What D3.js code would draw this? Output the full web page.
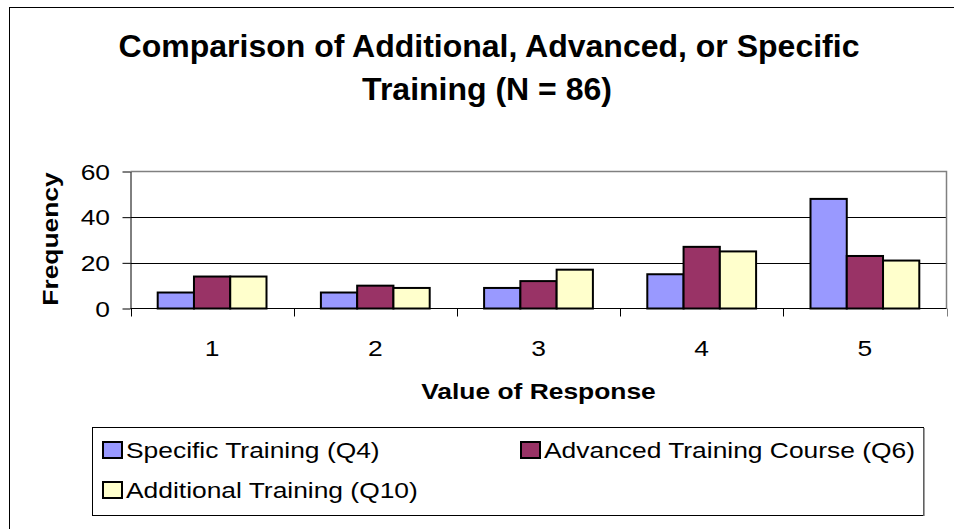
<!DOCTYPE html>
<html>
<head>
<meta charset="utf-8">
<script src="https://cdn.jsdelivr.net/npm/d3@7"></script>
<style>
  body { margin: 0; background: #fff; }
  text { font-family: Arial, "Liberation Sans", sans-serif; fill: #000; }
</style>
</head>
<body>
<div class="chart"></div>
<script>
// data
const categories = ["1", "2", "3", "4", "5"];
const seriesNames = ["Specific Training (Q4)", "Advanced Training Course (Q6)", "Additional Training (Q10)"];
const specific = [7, 7, 9, 15, 48];
const advanced = [14, 10, 12, 27, 23];
const additional = [14, 9, 17, 25, 21];
const yTicks = [0, 20, 40, 60];
const colors = ["#9999ff", "#993366", "#ffffcc"];

const seriesValues = [specific, advanced, additional];

const W = 954, H = 529;
const plot = { left: 130.5, right: 946.5, top: 171.5, bottom: 308.5 };
const stretch = 1.2; // the source's text is drawn wide

const svg = d3.select(".chart")
  .append("svg")
  .attr("width", W)
  .attr("height", H);

// text with horizontal stretch around its anchor
function label(g, x, y, str, opts = {}) {
  const rot = opts.rotate ? ` rotate(${opts.rotate})` : "";
  return g.append("text")
    .attr("transform", `translate(${x},${y})${rot} scale(${opts.sx || stretch},1)`)
    .attr("text-anchor", opts.anchor || "start")
    .attr("font-size", opts.size || 22)
    .attr("font-weight", opts.bold ? "bold" : null)
    .text(str);
}

// outer chart frame
svg.append("rect")
  .attr("x", 9.5).attr("y", 7.5)
  .attr("width", 960).attr("height", 540)
  .attr("fill", "#fff")
  .attr("stroke", "#000")
  .attr("stroke-width", 1);

const xScale = d3.scaleBand()
  .domain(categories)
  .range([plot.left, plot.right])
  .padding(0);

const xSub = d3.scaleBand()
  .domain(d3.range(seriesNames.length))
  .range([0, xScale.bandwidth()])
  .paddingInner(0)
  .paddingOuter(0.75);

const yScale = d3.scaleLinear()
  .domain([0, 60])
  .range([plot.bottom, plot.top]);

// gridlines
svg.append("g")
  .selectAll("line")
  .data(yTicks.filter(d => d > 0 && d < 60))
  .join("line")
  .attr("x1", plot.left).attr("x2", plot.right)
  .attr("y1", d => Math.round(yScale(d)) + 0.5)
  .attr("y2", d => Math.round(yScale(d)) + 0.5)
  .attr("stroke", "#000");

// plot area border top/right (grey)
svg.append("path")
  .attr("d", `M${plot.left},${plot.top}H${plot.right}V${plot.bottom}`)
  .attr("fill", "none")
  .attr("stroke", "#808080")
  .attr("stroke-width", 1.5);

// bars
const groups = svg.append("g")
  .selectAll("g")
  .data(seriesValues)
  .join("g")
  .attr("fill", (d, i) => colors[i]);

groups.selectAll("rect")
  .data((vals, si) => vals.map((v, ci) => ({ v, ci, si })))
  .join("rect")
  .attr("x", d => xScale(categories[d.ci]) + xSub(d.si))
  .attr("y", d => yScale(d.v))
  .attr("width", xSub.bandwidth())
  .attr("height", d => yScale(0) - yScale(d.v))
  .attr("stroke", "#000")
  .attr("stroke-width", 2);

// y axis
const yAxis = svg.append("g")
  .attr("transform", `translate(${plot.left},0)`)
  .call(d3.axisLeft(yScale).tickValues(yTicks).tickSize(8).tickFormat("").tickSizeOuter(0));
yAxis.select(".domain").attr("stroke", "#000");
yAxis.selectAll("line").attr("stroke", "#000");

const yLabels = svg.append("g");
yTicks.forEach(t => label(yLabels, 110, yScale(t) + 8, String(t), { anchor: "end" }));

// x axis: ticks between categories
const xAxis = svg.append("g")
  .attr("transform", `translate(0,${plot.bottom})`);
xAxis.append("line")
  .attr("x1", plot.left).attr("x2", plot.right)
  .attr("stroke", "#000");
xAxis.selectAll(".tk")
  .data(categories.concat(["end"]))
  .join("line")
  .attr("class", "tk")
  .attr("x1", (d, i) => Math.round(plot.left + i * xScale.step()) + 0.5)
  .attr("x2", (d, i) => Math.round(plot.left + i * xScale.step()) + 0.5)
  .attr("y1", 0).attr("y2", 8)
  .attr("stroke", (d, i) => i === categories.length ? "#808080" : "#000");
categories.forEach(c => label(xAxis, xScale(c) + xScale.bandwidth() / 2, 47, c, { anchor: "middle" }));

// title
label(svg, 489, 56.5, "Comparison of Additional, Advanced, or Specific", { anchor: "middle", size: 32, bold: true, sx: 1 });
label(svg, 487, 99.5, "Training (N = 86)", { anchor: "middle", size: 32, bold: true, sx: 1 });

// axis titles
label(svg, (plot.left + plot.right) / 2, 399, "Value of Response", { anchor: "middle", bold: true });
label(svg, 58, 239, "Frequency", { anchor: "middle", bold: true, rotate: -90 });

// legend
const legend = svg.append("g");
legend.append("rect")
  .attr("x", 92.5).attr("y", 427.5)
  .attr("width", 831).attr("height", 88)
  .attr("fill", "#fff")
  .attr("stroke", "#000");
legend.append("path")
  .attr("d", "M924,428V516")
  .attr("stroke", "#808080").attr("stroke-width", 1.5);

const legendPos = [[103, 458], [521, 458], [103, 498]];
seriesNames.forEach((name, i) => {
  const [lx, ly] = legendPos[i];
  legend.append("rect")
    .attr("x", lx).attr("y", ly - 16)
    .attr("width", 19).attr("height", 16)
    .attr("fill", colors[i])
    .attr("stroke", "#000").attr("stroke-width", 2);
  label(legend, lx + 23, ly, name);
});
</script>
</body>
</html>
